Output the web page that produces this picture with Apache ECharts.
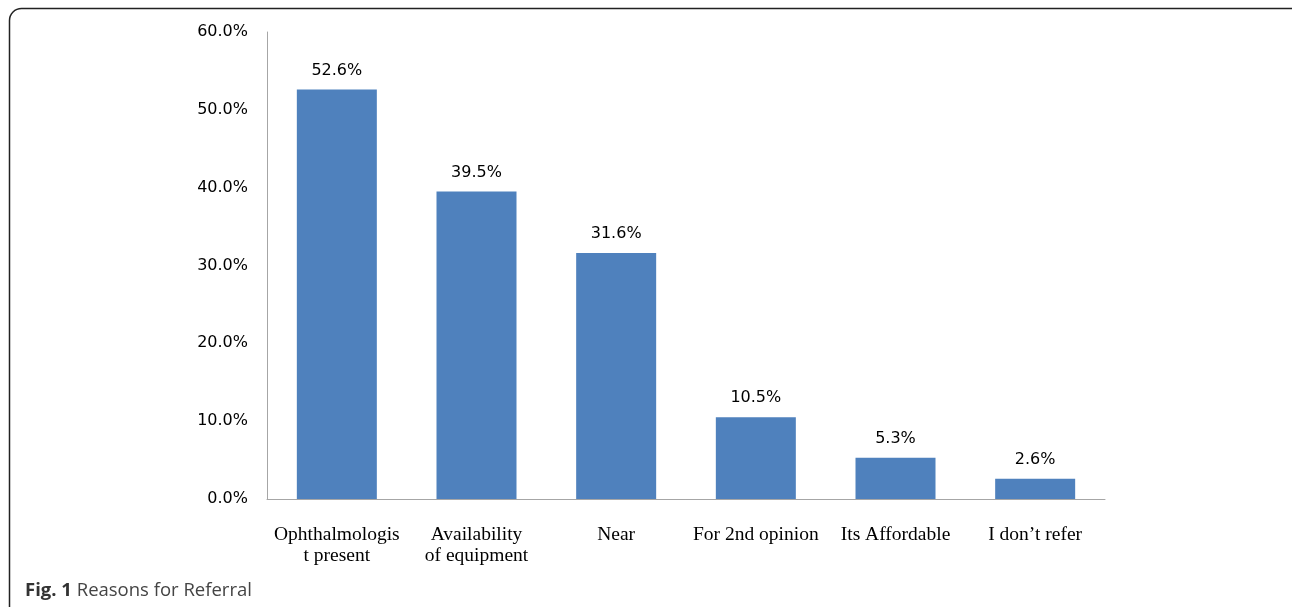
<!DOCTYPE html>
<html>
<head>
<meta charset="utf-8">
<script src="https://cdn.jsdelivr.net/npm/echarts@6/dist/echarts.min.js"></script>
<style>
html,body{margin:0;padding:0;background:#fff;}
#c{width:1292px;height:607px;}
</style>
</head>
<body>
<div id="c"></div>
<script>
const categories = ['Ophthalmologis\nt present', 'Availability\nof equipment', 'Near', 'For 2nd opinion', 'Its Affordable', 'I don\u2019t refer'];
const values = [52.6, 39.5, 31.6, 10.5, 5.3, 2.6];
const yTicks = { min: 0, max: 60, interval: 10 };
const caption = { bold: 'Fig. 1', text: ' Reasons for Referral' };

const chart = echarts.init(document.getElementById('c'), null, { renderer: 'canvas' });
chart.setOption({
  animation: false,
  backgroundColor: '#fff',
  grid: { left: 267, right: 187, top: 32, bottom: 108, containLabel: false },
  xAxis: {
    type: 'category',
    data: categories,
    axisLine: { lineStyle: { color: '#a6a6a6', width: 1 } },
    axisTick: { show: false },
    axisLabel: {
      interval: 0,
      margin: 25,
      color: '#000',
      fontFamily: 'Liberation Serif',
      fontSize: 19.5,
      lineHeight: 21
    }
  },
  yAxis: {
    type: 'value',
    min: yTicks.min, max: yTicks.max, interval: yTicks.interval,
    axisLine: { show: true, lineStyle: { color: '#a6a6a6', width: 1 } },
    axisTick: { show: false },
    splitLine: { show: false },
    axisLabel: {
      margin: 19,
      color: '#000',
      fontFamily: 'DejaVu Sans',
      fontSize: 16,
      formatter: v => v.toFixed(1) + '%'
    }
  },
  series: [{
    type: 'bar',
    data: values,
    barWidth: 80,
    itemStyle: { color: '#4f81bd' },
    label: {
      show: true,
      position: 'top',
      distance: 11,
      color: '#000',
      fontFamily: 'DejaVu Sans',
      fontSize: 16,
      formatter: p => p.value.toFixed(1) + '%'
    }
  }],
  graphic: [
    {
      type: 'rect',
      shape: { x: 9.5, y: 8.5, width: 1300, height: 640, r: 12 },
      style: { fill: 'none', stroke: '#222', lineWidth: 1.5 },
      silent: true
    },
    {
      type: 'text',
      left: 25, top: 581,
      style: {
        text: '{b|' + caption.bold + '}{r|' + caption.text + '}',
        rich: {
          b: { fontFamily: 'Open Sans', fontWeight: 'bold', fontSize: 18.5, fill: '#333' },
          r: { fontFamily: 'Open Sans', fontSize: 18.5, fill: '#444' }
        }
      }
    }
  ]
});
</script>
</body>
</html>
